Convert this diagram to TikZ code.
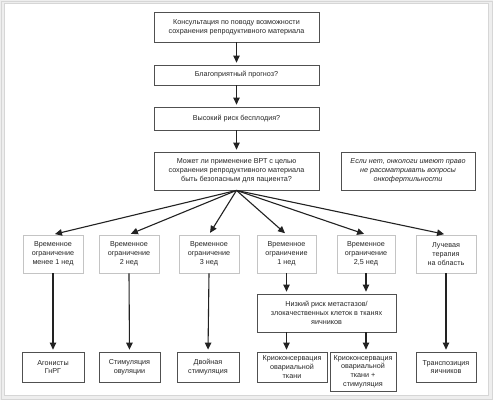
\documentclass[tikz,border=0pt]{standalone}
\usepackage{fontspec}
\setmainfont{Liberation Sans}
\usetikzlibrary{arrows.meta}
\definecolor{boxline}{HTML}{505050}
\definecolor{lightline}{HTML}{C4C4C4}
\definecolor{arrowc}{HTML}{222222}
\definecolor{framefill}{HTML}{EEEEEE}
\definecolor{frameline}{HTML}{D6D6D6}
\begin{document}
\begin{tikzpicture}[x=1pt,y=-1pt,
  txt/.style={font=\fontsize{7.2}{8.8}\selectfont, align=center, inner sep=0pt, text=black!85},
  mainbox/.style={txt, draw=boxline, line width=0.8pt, rectangle},
  softbox/.style={txt, draw=lightline, line width=0.9pt, rectangle},
  arr/.style={draw=arrowc, line width=1.1pt, -{Triangle[length=7pt,width=6.5pt]}, shorten >=2pt},
]
\useasboundingbox (0,0) rectangle (493,400);
\fill[framefill] (0,0) rectangle (493,400);
\fill[white] (4,3) rectangle (488,395);
\draw[frameline, line width=1pt] (4,3) rectangle (488,395);
\draw[frameline, line width=0.6pt] (1,1) rectangle (492,399);

\node[mainbox, minimum width=165pt, minimum height=30pt] (b1) at (236.5,27) {Консультация по поводу возможности\\сохранения репродуктивного материала};
\node[mainbox, minimum width=165pt, minimum height=20pt] (b2) at (236.5,75) {Благоприятный прогноз?};
\node[mainbox, minimum width=165pt, minimum height=23pt] (b3) at (236.5,118.5) {Высокий риск бесплодия?};
\node[mainbox, minimum width=165pt, minimum height=38pt] (b4) at (236.5,171) {Может ли применение ВРТ с целью\\сохранения репродуктивного материала\\быть безопасным для пациента?};
\node[mainbox, minimum width=134pt, minimum height=38pt, font=\fontsize{7.2}{8.8}\selectfont\itshape] (note) at (408,171) {Если нет, онкологи имеют право\\не рассматривать вопросы\\онкофертильности};

\node[softbox, minimum width=60pt, minimum height=38pt] (tA) at (53,254) {Временное\\ограничение\\менее 1 нед};
\node[softbox, minimum width=60pt, minimum height=38pt] (tB) at (129,254) {Временное\\ограничение\\2 нед};
\node[softbox, minimum width=60pt, minimum height=38pt] (tC) at (209,254) {Временное\\ограничение\\3 нед};
\node[softbox, minimum width=59pt, minimum height=38pt] (tD) at (286.5,254) {Временное\\ограничение\\1 нед};
\node[softbox, minimum width=58pt, minimum height=38pt] (tE) at (366,254) {Временное\\ограничение\\2,5 нед};
\node[softbox, minimum width=60pt, minimum height=38pt] (tF) at (446,254) {Лучевая\\терапия\\на область};

\node[mainbox, minimum width=139pt, minimum height=38pt] (risk) at (326.5,313) {Низкий риск метастазов/\\злокачественных клеток в тканях\\яичников};

\node[mainbox, minimum width=62pt, minimum height=30pt] (rA) at (53,367) {Агонисты\\ГнРГ};
\node[mainbox, minimum width=61pt, minimum height=30pt] (rB) at (129.5,367) {Стимуляция\\овуляции};
\node[mainbox, minimum width=62pt, minimum height=30pt] (rC) at (208,367) {Двойная\\стимуляция};
\node[mainbox, minimum width=70pt, minimum height=30pt] (rD) at (292,367) {Криоконсервация\\овариальной\\ткани};
\node[mainbox, minimum width=66pt, minimum height=39pt] (rE) at (363,371.5) {Криоконсервация\\овариальной\\ткани +\\стимуляция};
\node[mainbox, minimum width=60pt, minimum height=30pt] (rF) at (446,367) {Транспозиция\\яичников};

\draw[arr] (b1.south) -- (b2.north);
\draw[arr] (b2.south) -- (b3.north);
\draw[arr] (b3.south) -- (b4.north);
\foreach \t in {tA,tB,tC,tD,tE,tF} \draw[arr] (b4.south) -- (\t.north);
\draw[arr] (tA.south) -- (rA.north);
\draw[arr] (tB.south) -- (rB.north);
\draw[arr] (tC.south) -- (rC.north);
\draw[arr] (tD.south) -- (risk.north -| tD.south);
\draw[arr] (tE.south) -- (risk.north -| tE.south);
\draw[arr] (risk.south -| tD.south) -- (rD.north -| tD.south);
\draw[arr] (risk.south -| tE.south) -- (rE.north -| tE.south);
\draw[arr] (tF.south) -- (rF.north);
\end{tikzpicture}
\end{document}
